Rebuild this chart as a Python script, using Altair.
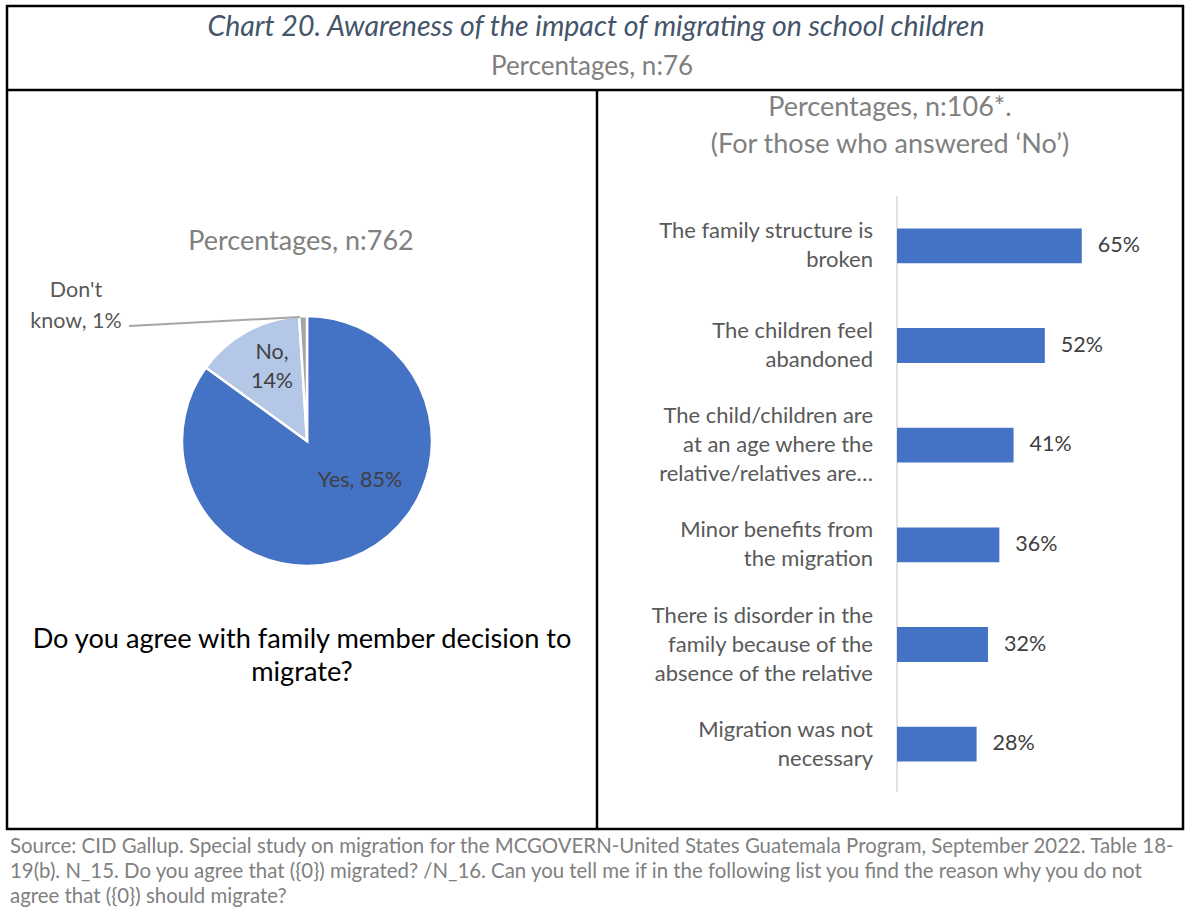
import altair as alt
import pandas as pd

# ---- data ----
pie_categories = ["Yes", "No", "Don't know"]
pie_values = [85, 14, 1]
pie_colors = ["#4472C4", "#B4C7E7", "#A5A5A5"]

reasons = [
    "The family structure is\nbroken",
    "The children feel\nabandoned",
    "The child/children are\nat an age where the\nrelative/relatives are…",
    "Minor benefits from\nthe migration",
    "There is disorder in the\nfamily because of the\nabsence of the relative",
    "Migration was not\nnecessary",
]
reason_values = [65, 52, 41, 36, 32, 28]

title_text = "Chart 20. Awareness of the impact of migrating on school children"
subtitle_text = "Percentages, n:76"
pie_title = "Percentages, n:762"
pie_question = "Do you agree with family member decision to\nmigrate?"
bar_title = "Percentages, n:106*.\n(For those who answered ‘No’)"
footer_lines = [
    "Source: CID Gallup. Special study on migration for the MCGOVERN-United States Guatemala Program, September 2022.  Table 18-",
    "19(b). N_15. Do you agree that ({0}) migrated? /N_16. Can you tell me if in the following list you find the reason why you do not",
    "agree that ({0}) should migrate?",
]

FONT = "Lato"
LH = 29

pie_df = pd.DataFrame({
    "cat": pie_categories,
    "value": pie_values,
    "idx": list(range(len(pie_categories))),
})
pie_df["label"] = [f"{c}, {v}%" for c, v in zip(pie_categories, pie_values)]
pie_df.loc[pie_df["cat"] == "No", "label"] = "No,\n14%"
pie_df.loc[pie_df["cat"] == "Don't know", "label"] = "Don't\nknow, 1%"

bar_df = pd.DataFrame({"reason": reasons, "pct": reason_values})
bar_df["pct_label"] = [f"{v}%" for v in reason_values]
bar_df["nlines"] = [r.count("\n") + 1 for r in reasons]

one = alt.Data(values=[{}])


def hline(x1, x2, y, color="black", w=2.5):
    return alt.Chart(one).mark_rule(color=color, strokeWidth=w).encode(
        x=alt.value(x1), x2=alt.value(x2), y=alt.value(y), y2=alt.value(y))


def vline(x, y1, y2, color="black", w=2.5):
    return alt.Chart(one).mark_rule(color=color, strokeWidth=w).encode(
        x=alt.value(x), x2=alt.value(x), y=alt.value(y1), y2=alt.value(y2))


def label(text, x, y, size, color, style="normal", align="center", lh=None, font=FONT):
    kw = dict(text=text, fontSize=size, color=color, font=font, align=align,
              baseline="middle", fontStyle=style, lineBreak="\n")
    if lh:
        kw["lineHeight"] = lh
    return alt.Chart(one).mark_text(**kw).encode(x=alt.value(x), y=alt.value(y))


# ---- frame ----
frame = [
    hline(6, 1184, 6),
    hline(6, 1184, 90),
    hline(6, 1184, 829),
    vline(7, 5, 830),
    vline(1183, 5, 830),
    vline(597, 90, 829),
]

# ---- titles ----
texts = [
    label(title_text, 596, 27, 28.5, "#44546A", style="italic"),
    label(subtitle_text, 592, 67, 26, "#808080"),
    label(pie_title, 301, 242, 27, "#808080"),
    label(pie_question, 302, 640, 27.2, "#000000", lh=33),
    label(bar_title, 890, 108, 27, "#808080", lh=37),
]
for i, line in enumerate(footer_lines):
    texts.append(label(line, 10, 847 + i * 25, 20.4, "#808080", align="left"))

# ---- pie ----
pie = alt.Chart(pie_df).mark_arc(outerRadius=125, stroke="white", strokeWidth=2.5).encode(
    theta=alt.Theta("value:Q", stack=True),
    order=alt.Order("idx:Q"),
    color=alt.Color("cat:N", scale=alt.Scale(domain=pie_categories, range=pie_colors), legend=None),
    x=alt.value(307),
    y=alt.value(441),
)


def pie_label(cat, x, y, color, lh=29):
    return alt.Chart(pie_df).transform_filter(alt.datum.cat == cat).mark_text(
        fontSize=21.5, color=color, font=FONT, align="center", baseline="middle",
        lineBreak="\n", lineHeight=lh,
    ).encode(text="label:N", x=alt.value(x), y=alt.value(y))


pie_labels = [
    pie_label("Yes", 360, 481, "#404040"),
    pie_label("No", 272, 353, "#404040"),
    pie_label("Don't know", 76, 291, "#595959", lh=31),
]
leader = alt.Chart(one).mark_rule(color="#A6A6A6", strokeWidth=2).encode(
    x=alt.value(129), x2=alt.value(300), y=alt.value(326), y2=alt.value(317))

# ---- bars ----
xscale = alt.Scale(domain=[0, 70], range=[897, 1096])
yscale = alt.Scale(domain=reasons, range=[196, 794], paddingInner=0.65, paddingOuter=0.325)
ypos = alt.Y("reason:N", scale=yscale, axis=None, sort=reasons)

bars = alt.Chart(bar_df).mark_bar(color="#4472C4").encode(
    x=alt.X("pct:Q", scale=xscale, axis=None),
    y=ypos,
)
bar_vals = alt.Chart(bar_df).mark_text(
    fontSize=21.5, color="#404040", font=FONT, align="left", baseline="middle", dx=16,
).encode(
    x=alt.X("pct:Q", scale=xscale, axis=None),
    y=ypos,
    text="pct_label:N",
)


def cat_label_layer(n):
    return alt.Chart(bar_df).transform_filter(alt.datum.nlines == n).mark_text(
        fontSize=22, color="#595959", font=FONT, align="right", baseline="middle",
        lineBreak="\n", lineHeight=LH, dy=-(n - 1) * LH / 2,
    ).encode(
        x=alt.value(873),
        y=ypos,
        text="reason:N",
    )


cat_labels = [cat_label_layer(n) for n in sorted(set(bar_df["nlines"]))]

axis_line = alt.Chart(one).mark_rule(color="#D9D9D9", strokeWidth=1.5).encode(
    x=alt.value(897), y=alt.value(196), y2=alt.value(792))

chart = alt.layer(
    *frame, *texts, pie, *pie_labels, leader, axis_line, bars, bar_vals, *cat_labels
).properties(
    width=1185, height=911,
    autosize=alt.AutoSizeParams(type="none"),
    padding=0,
    background="white",
).configure_view(stroke=None)

chart.save("out.html", embed_options={"renderer": "svg", "actions": False})
